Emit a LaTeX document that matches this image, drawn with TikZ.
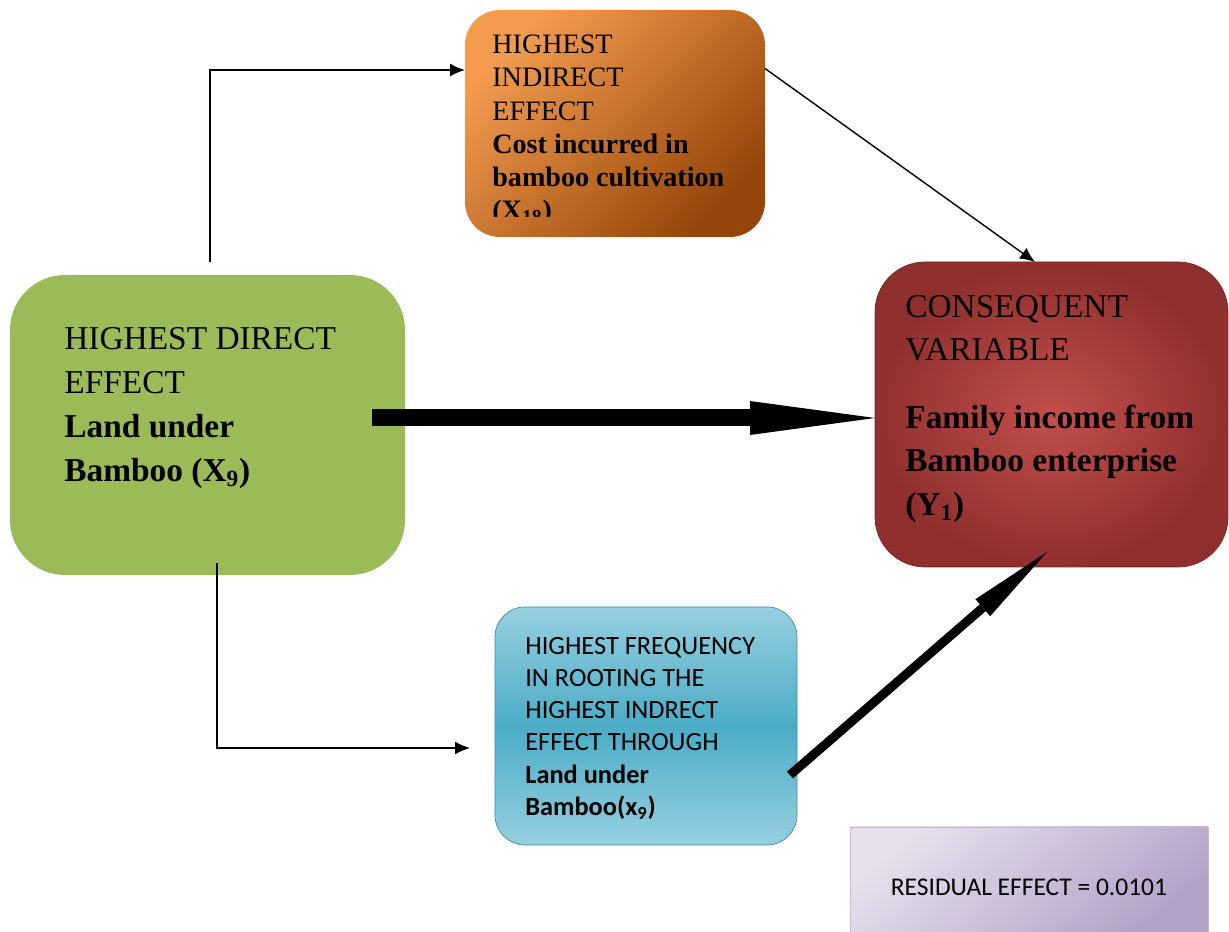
\documentclass[tikz,border=0pt]{standalone}
\usepackage{fontspec}
\setmainfont{Liberation Serif}
\newfontfamily\calibri{Carlito}
\usetikzlibrary{arrows.meta}
\usetikzlibrary{positioning}
\definecolor{orgL}{HTML}{F39C50}
\definecolor{orgD}{HTML}{96460A}
\definecolor{grn}{HTML}{9BBB59}
\definecolor{redC}{HTML}{C24F4C}
\definecolor{redO}{HTML}{8F302E}
\definecolor{redE}{HTML}{7A2624}
\definecolor{bluT}{HTML}{96CFDF}
\definecolor{bluM}{HTML}{4BACC6}
\definecolor{bluE}{HTML}{3E8CA3}
\definecolor{purL}{HTML}{E6E0EC}
\definecolor{purD}{HTML}{B3A2C8}
\definecolor{purE}{HTML}{C6B8D8}

\begin{document}
\begin{tikzpicture}[
	box/.style={inner sep=0pt, outer sep=0pt},
	txt/.style={align=left, inner sep=0pt, anchor=north west},
	thinarr/.style={line width=0.8pt, -{Latex[length=3mm,width=2.6mm]}},
	fatarr/.style={line width=0.34cm, -{Triangle[length=2.5cm,width=0.68cm,line width=0pt]}},
	midarr/.style={line width=0.18cm, -{Triangle[length=1.7cm,width=0.45cm,line width=0pt]}}]
	\useasboundingbox (0,0) rectangle (24.58,18.64);
	% boxes
	\node[box, rounded corners=0.7cm, top color=orgL, bottom color=orgD, shading angle=45,
		minimum width=6cm, minimum height=4.54cm] (cost) at (12.30,16.17) {};%X18
	\node[box, rounded corners=1.1cm, fill=grn,
		minimum width=7.9cm, minimum height=6cm] (land) at (4.15,10.14) {};%X9
	\node[box, rounded corners=1cm, inner color=redC, outer color=redO, draw=redE,
		minimum width=7.06cm, minimum height=6.1cm] (income) at (21.03,10.35) {};%Y1
	\node[box, rounded corners=0.6cm, top color=bluT, bottom color=bluT, middle color=bluM, draw=bluE,
		minimum width=6.04cm, minimum height=4.76cm] (freq) at (12.92,4.12) {};
	\node[box, left color=purL, right color=purD, shading angle=40, draw=purE,
		minimum width=7.16cm, minimum height=2.1cm] (resid) at (20.58,1.05) {};
	% texts
	\begin{scope}
	\clip (cost.north west) rectangle ([yshift=0.4cm]cost.south east);
	\node[txt, font=\fontsize{16}{18.8}\selectfont] (costtxt) at ([shift={(0.54,-0.5)}]cost.north west)
		{HIGHEST\\INDIRECT\\EFFECT\\\textbf{Cost incurred in}\\\textbf{bamboo cultivation}\\\textbf{(X\textsubscript{18})}};
	\end{scope}
	\node[txt, font=\fontsize{19}{25.1}\selectfont] (landtxt) at ([shift={(1.08,-1.04)}]land.north west)
		{HIGHEST DIRECT\\EFFECT\\\textbf{Land under}\\\textbf{Bamboo (X\textsubscript{9})}};
	\node[txt, font=\fontsize{19}{24.7}\selectfont] (incometxt) at ([shift={(0.6,-0.66)}]income.north west)
		{CONSEQUENT\\VARIABLE\\[0.48cm]\textbf{Family income from}\\\textbf{Bamboo enterprise}\\\textbf{(Y\textsubscript{1})}};
	\node[txt, font=\calibri\fontsize{15}{18.3}\selectfont] (freqtxt) at ([shift={(0.6,-0.6)}]freq.north west)
		{HIGHEST FREQUENCY\\IN ROOTING THE\\HIGHEST INDRECT\\EFFECT THROUGH\\\textbf{Land under}\\\textbf{Bamboo(x\textsubscript{9})}};
	\node[font=\calibri\fontsize{14.5}{17}\selectfont, inner sep=0pt] (residtxt) at ([yshift=-0.15cm]resid.center)
		{RESIDUAL EFFECT = 0.0101};
	% connectors
	\coordinate (fatstart) at ([shift={(-0.66,0.14)}]land.east);
	\draw[thinarr] ([shift={(0.05,0.26)}]land.north) |- ([yshift=1.07cm]cost.west);
	\draw[thinarr] ([yshift=1.1cm]cost.east) -- ([xshift=-0.33cm]income.north);
	\draw[fatarr] (fatstart) -- (fatstart -| income.west);
	\draw[thinarr] ([shift={(0.19,0.24)}]land.south) |- ([shift={(-0.5,-0.44)}]freq.west);
	\draw[midarr] ([shift={(-0.14,-0.98)}]freq.east) -- ([shift={(-0.09,0.3)}]income.south);
\end{tikzpicture}
\end{document}
